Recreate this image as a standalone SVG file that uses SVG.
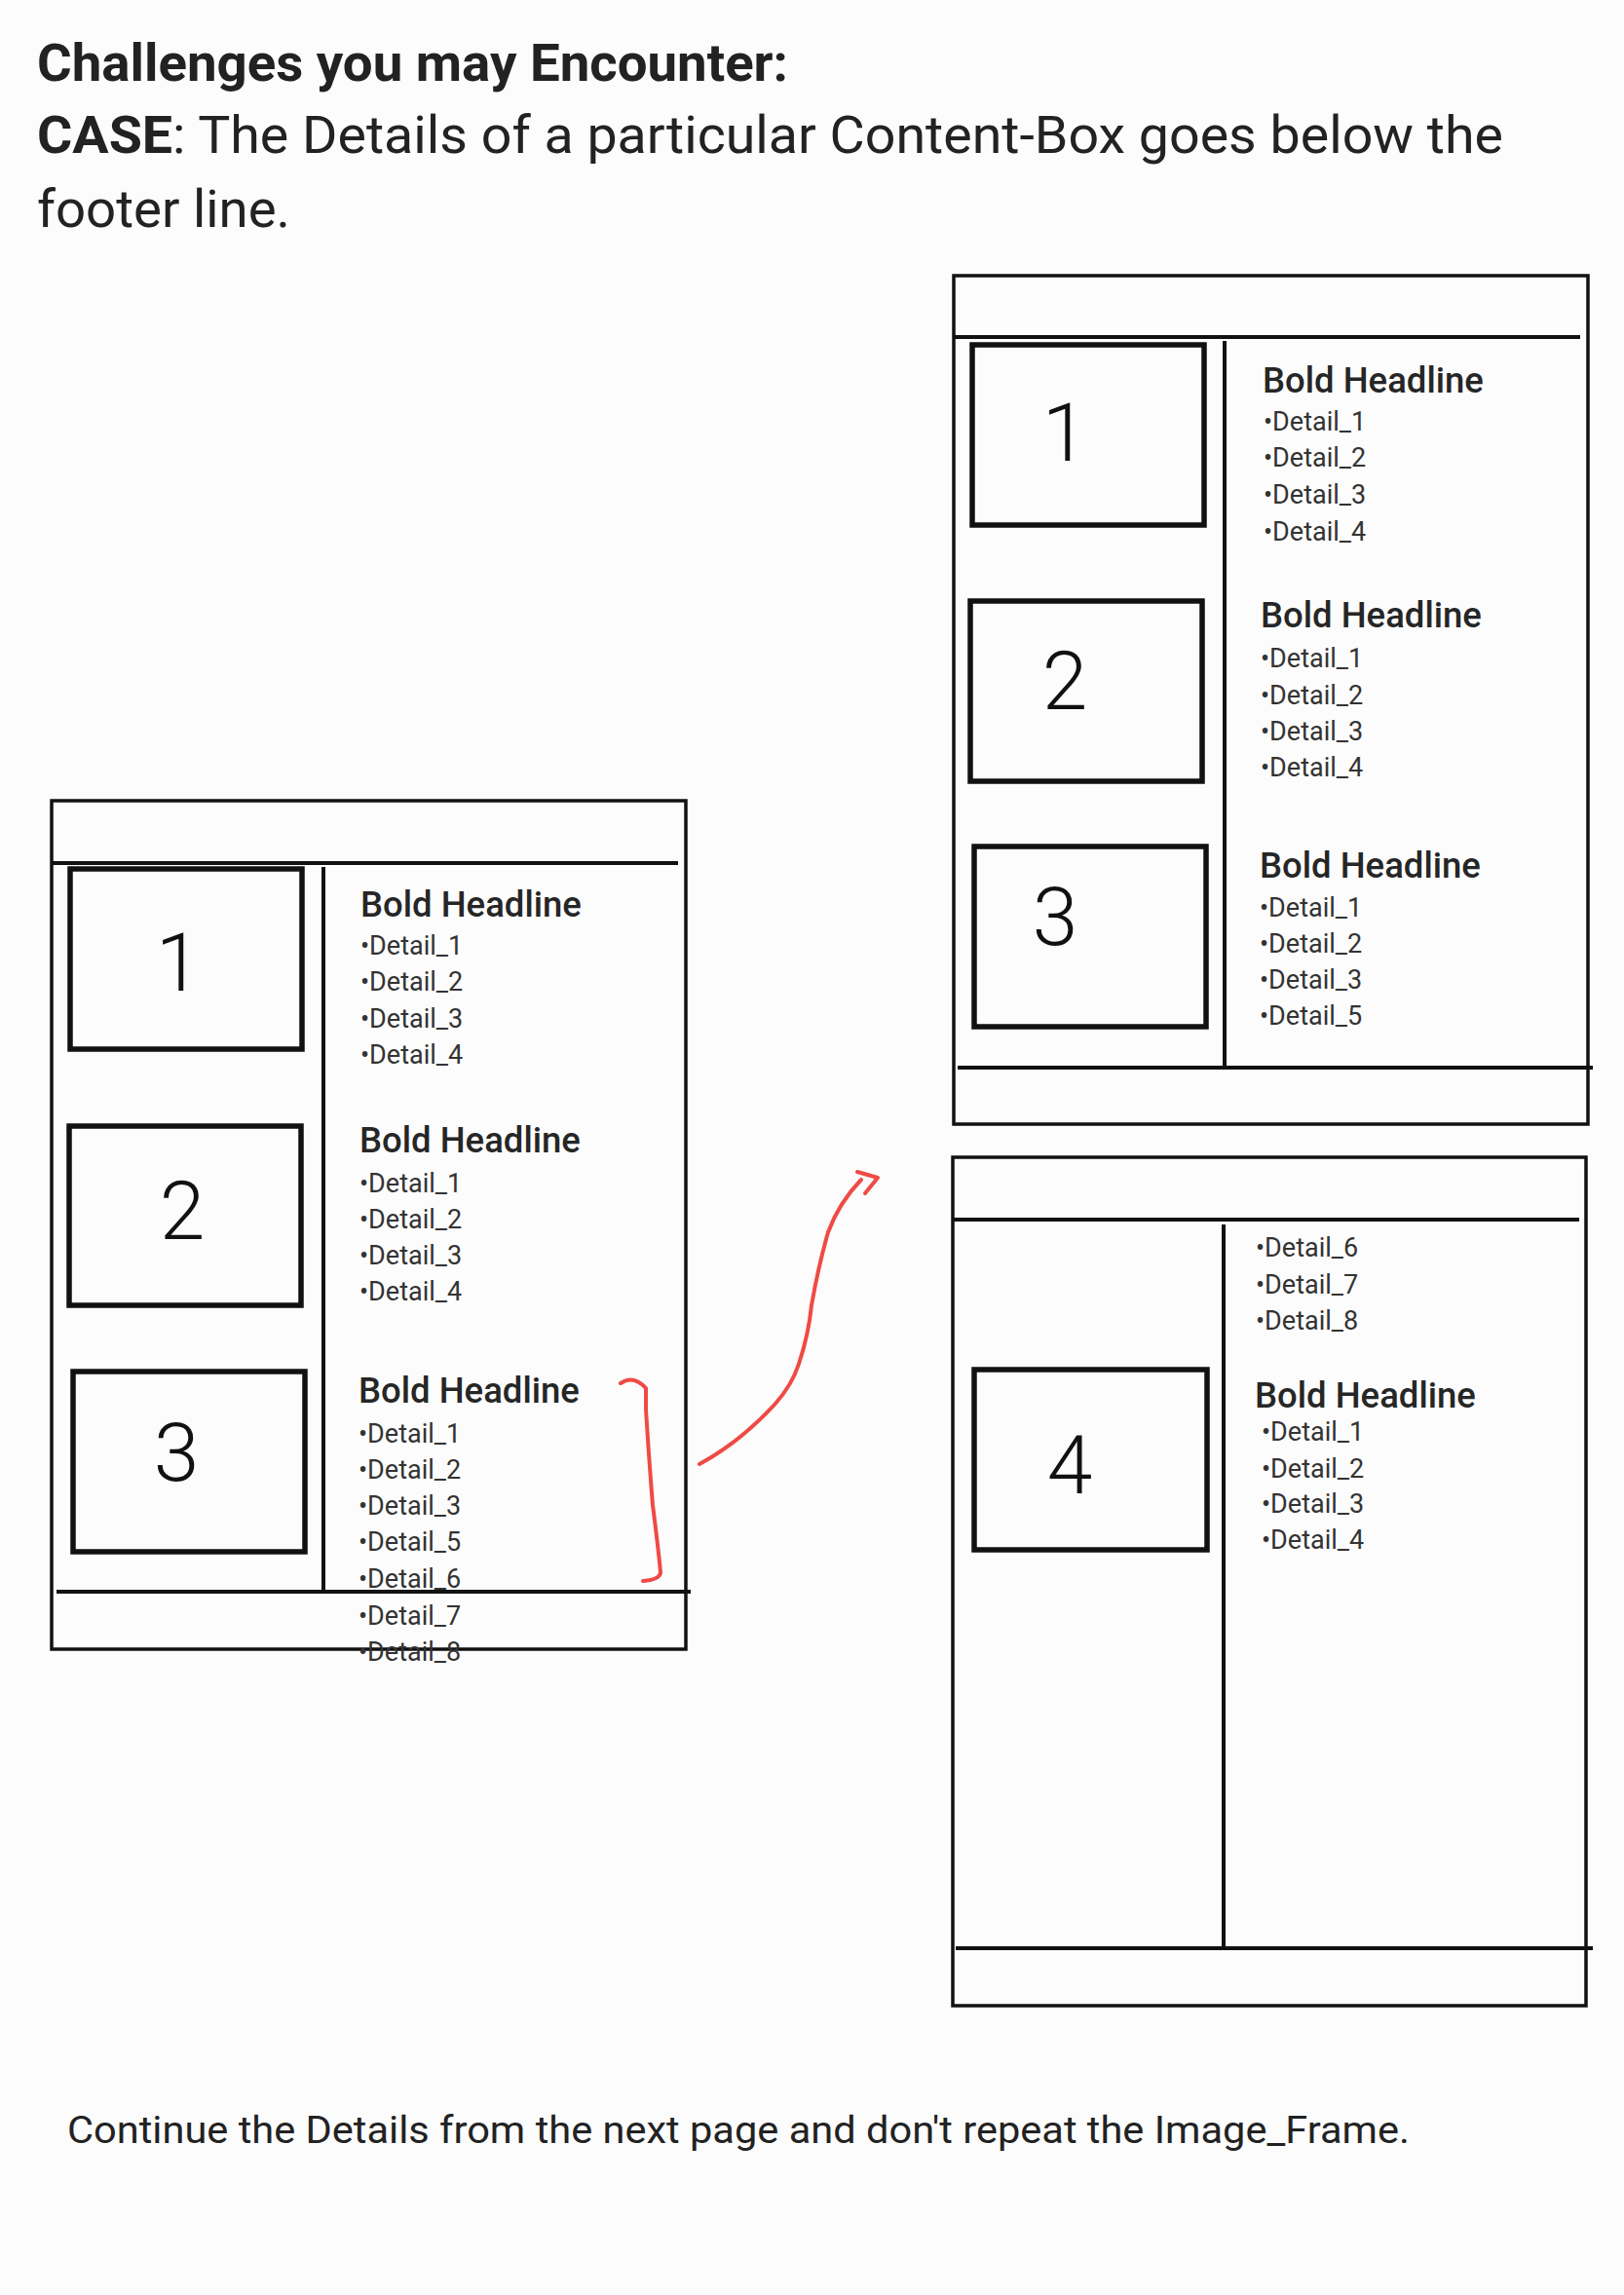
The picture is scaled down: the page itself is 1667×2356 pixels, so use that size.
<svg xmlns="http://www.w3.org/2000/svg" width="1667" height="2356" viewBox="0 0 1667 2356">
<style>
  .bg{fill:#fcfcfc}
  .title{font-family:Roboto,"Liberation Sans",sans-serif;fill:#222}
  .page{fill:none;stroke:#111;stroke-width:3.5}
  .rule{stroke:#111;stroke-width:4;fill:none}
  .frame{fill:none;stroke:#111;stroke-width:5.5}
  .head{font-family:Roboto,"Liberation Sans",sans-serif;font-weight:500;font-size:36.5px;fill:#262626}
  .det{font-family:Roboto,"Liberation Sans",sans-serif;font-size:27px;fill:#333}
  .digit{font-family:Roboto,"DejaVu Sans",sans-serif;font-weight:300;font-size:84px;fill:#111;text-anchor:middle}
  .red{fill:none;stroke:#ef4a45;stroke-width:4;stroke-linecap:round;stroke-linejoin:round}
</style>
<rect class="bg" x="0" y="0" width="1667" height="2356"/>

<g id="heading">
  <text class="title" x="38" y="83" font-size="53" font-weight="700" textLength="771" lengthAdjust="spacingAndGlyphs">Challenges you may Encounter:</text>
  <text class="title" x="38" y="157" font-size="53" textLength="1505" lengthAdjust="spacingAndGlyphs"><tspan font-weight="700">CASE</tspan>: The Details of a particular Content-Box goes below the</text>
  <text class="title" x="38" y="233" font-size="53" textLength="260" lengthAdjust="spacingAndGlyphs">footer line.</text>
</g>

<g id="page-left">
  <rect class="page" x="53" y="822" width="651" height="871"/>
  <line class="rule" x1="53" y1="886" x2="696" y2="886"/>
  <line class="rule" x1="332" y1="890" x2="332" y2="1634"/>
  <line class="rule" x1="58" y1="1634" x2="709" y2="1634"/>
  <g id="left-box-1">
    <rect class="frame" x="72" y="892" width="238" height="185"/>
    <text class="digit" x="183" y="1017">1</text>
    <text class="head" x="370" y="941">Bold Headline</text>
    <text class="det" x="370" y="980">•Detail_1</text>
    <text class="det" x="370" y="1017">•Detail_2</text>
    <text class="det" x="370" y="1055">•Detail_3</text>
    <text class="det" x="370" y="1092">•Detail_4</text>
  </g>
  <g id="left-box-2">
    <rect class="frame" x="71" y="1156" width="238" height="184"/>
    <text class="digit" x="187" y="1272">2</text>
    <text class="head" x="369" y="1183">Bold Headline</text>
    <text class="det" x="369" y="1224">•Detail_1</text>
    <text class="det" x="369" y="1261">•Detail_2</text>
    <text class="det" x="369" y="1298">•Detail_3</text>
    <text class="det" x="369" y="1335">•Detail_4</text>
  </g>
  <g id="left-box-3">
    <rect class="frame" x="75" y="1408" width="238" height="185"/>
    <text class="digit" x="181" y="1520">3</text>
    <text class="head" x="368" y="1440">Bold Headline</text>
    <text class="det" x="368" y="1481">•Detail_1</text>
    <text class="det" x="368" y="1518">•Detail_2</text>
    <text class="det" x="368" y="1555">•Detail_3</text>
    <text class="det" x="368" y="1592">•Detail_5</text>
    <text class="det" x="368" y="1630">•Detail_6</text>
    <text class="det" x="368" y="1668">•Detail_7</text>
    <text class="det" x="368" y="1705">•Detail_8</text>
  </g>
</g>

<g id="page-right-1">
  <rect class="page" x="979" y="283" width="651" height="871"/>
  <line class="rule" x1="979" y1="346" x2="1622" y2="346"/>
  <line class="rule" x1="1257" y1="350" x2="1257" y2="1096"/>
  <line class="rule" x1="983" y1="1096" x2="1635" y2="1096"/>
  <g id="right-box-1">
    <rect class="frame" x="998" y="354" width="238" height="185"/>
    <text class="digit" x="1093" y="473" font-size="70">1</text>
    <text class="head" x="1296" y="403">Bold Headline</text>
    <text class="det" x="1297" y="442">•Detail_1</text>
    <text class="det" x="1297" y="479">•Detail_2</text>
    <text class="det" x="1297" y="517">•Detail_3</text>
    <text class="det" x="1297" y="555">•Detail_4</text>
  </g>
  <g id="right-box-2">
    <rect class="frame" x="996" y="617" width="238" height="185"/>
    <text class="digit" x="1093" y="728" font-size="75">2</text>
    <text class="head" x="1294" y="644">Bold Headline</text>
    <text class="det" x="1294" y="685">•Detail_1</text>
    <text class="det" x="1294" y="723">•Detail_2</text>
    <text class="det" x="1294" y="760">•Detail_3</text>
    <text class="det" x="1294" y="797">•Detail_4</text>
  </g>
  <g id="right-box-3">
    <rect class="frame" x="1000" y="869" width="238" height="185"/>
    <text class="digit" x="1083" y="970" font-size="75">3</text>
    <text class="head" x="1293" y="901">Bold Headline</text>
    <text class="det" x="1293" y="941">•Detail_1</text>
    <text class="det" x="1293" y="978">•Detail_2</text>
    <text class="det" x="1293" y="1015">•Detail_3</text>
    <text class="det" x="1293" y="1052">•Detail_5</text>
  </g>
</g>

<g id="page-right-2">
  <rect class="page" x="978" y="1188" width="650" height="871"/>
  <line class="rule" x1="978" y1="1252" x2="1621" y2="1252"/>
  <line class="rule" x1="1256" y1="1257" x2="1256" y2="2000"/>
  <line class="rule" x1="981" y1="2000" x2="1635" y2="2000"/>
  <g id="right-box-3-continued">
    <text class="det" x="1289" y="1290">•Detail_6</text>
    <text class="det" x="1289" y="1328">•Detail_7</text>
    <text class="det" x="1289" y="1365">•Detail_8</text>
  </g>
  <g id="right-box-4">
    <rect class="frame" x="1000" y="1406" width="239" height="185"/>
    <text class="digit" x="1098" y="1533" font-size="95">4</text>
    <text class="head" x="1288" y="1445">Bold Headline</text>
    <text class="det" x="1295" y="1479">•Detail_1</text>
    <text class="det" x="1295" y="1517">•Detail_2</text>
    <text class="det" x="1295" y="1553">•Detail_3</text>
    <text class="det" x="1295" y="1590">•Detail_4</text>
  </g>
</g>

<g id="connectors">
  <path class="red" d="M637,1420 Q650,1411 663,1425 L663,1447 Q666,1496 670,1545 Q677,1600 678,1615 Q676,1622 660,1623"/>
  <path class="red" d="M718,1503 Q760,1480 795,1442 Q813,1422 820,1400 Q830,1370 833,1340 Q840,1300 850,1265 Q861,1235 884,1211"/>
  <polyline class="red" points="880,1203 901,1209 888,1225"/>
</g>

<g id="footnote">
  <text class="title" x="69" y="2200" font-size="39" textLength="1378" lengthAdjust="spacingAndGlyphs">Continue the Details from the next page and don't repeat the Image_Frame.</text>
</g>
</svg>
